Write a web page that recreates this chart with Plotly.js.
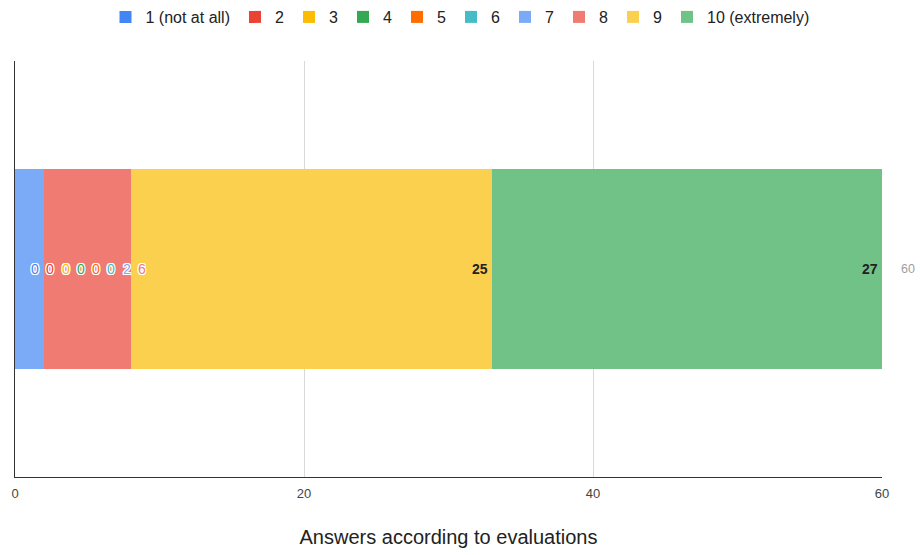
<!DOCTYPE html>
<html>
<head>
<meta charset="utf-8">
<script src="https://cdn.plot.ly/plotly-3.0.1.min.js"></script>
<style>html,body{margin:0;padding:0;background:#fff;}#chart{width:920px;height:555px;}</style>
</head>
<body>
<div id="chart"></div>
<script>
const seriesNames = ["1 (not at all)", "2", "3", "4", "5", "6", "7", "8", "9", "10 (extremely)"];
const seriesValues = [0, 0, 0, 0, 0, 0, 2, 6, 25, 27];
const seriesColors = ["#4285F4", "#EA4335", "#FBBC04", "#34A853", "#FF6D01", "#46BDC6", "#7BAAF7", "#F07B72", "#FCD04F", "#71C287"];
const category = [""];
const xTicks = [0, 20, 40, 60];
const xTitle = "Answers according to evaluations";

const FONT = "Arial, 'Liberation Sans', sans-serif";
const W = 920, H = 555;
const margin = {l: 15, r: 38, t: 61, b: 78};
const plotW = W - margin.l - margin.r;
const xMax = 60;
const pxPerUnit = plotW / xMax;

const traces = seriesNames.map((name, i) => ({
  type: "bar",
  orientation: "h",
  name: name,
  x: [seriesValues[i]],
  y: category,
  width: 0.482,
  marker: {color: seriesColors[i], line: {width: 0}},
  hoverinfo: "skip"
}));

// Value labels: right-aligned inside each segment end; collisions pushed right
const annotations = [];
let cum = 0;
let prevCenter = -Infinity;
const minGap = 15.3;
const firstMin = 20;
seriesValues.forEach((v, i) => {
  cum += v;
  const txt = String(v);
  const wTxt = txt.length * 7.3;
  let center = cum * pxPerUnit - 5 - wTxt / 2;
  if (center < firstMin) center = firstMin;
  if (center < prevCenter + minGap) center = prevCenter + minGap;
  prevCenter = center;
  const big = v >= 10;
  annotations.push({
    x: 0, y: 0, xref: "x", yref: "y",
    xanchor: "center", yanchor: "middle",
    xshift: center,
    text: big ? "<b>" + txt + "</b>" : txt,
    showarrow: false,
    font: big
      ? {family: FONT, size: 14, color: "#222222"}
      : {family: FONT, size: 14, color: seriesColors[i],
         shadow: "1px 0 0 #fff, -1px 0 0 #fff, 0 1px 0 #fff, 0 -1px 0 #fff, 1px 1px 0 #fff, -1px -1px 0 #fff, 1px -1px 0 #fff, -1px 1px 0 #fff"}
  });
});
// total label
const total = seriesValues.reduce((a, b) => a + b, 0);
annotations.push({
  x: total, y: 0, xref: "x", yref: "y",
  xanchor: "left", yanchor: "middle", xshift: 17,
  text: String(total), showarrow: false,
  font: {family: FONT, size: 12.5, color: "#9e9e9e"}
});

const layout = {
  width: W, height: H,
  margin: margin,
  paper_bgcolor: "#ffffff",
  plot_bgcolor: "#ffffff",
  barmode: "stack",
  bargap: 0,
  font: {family: FONT, size: 12, color: "#444"},
  showlegend: true,
  legend: {
    orientation: "h",
    x: 0.5, xanchor: "center", xref: "container",
    y: 1, yref: "container", yanchor: "top",
    font: {family: FONT, size: 16, color: "#222"},
    itemwidth: 30,
    traceorder: "normal",
    tracegroupgap: 0,
    itemclick: false
  },
  xaxis: {
    range: [0, xMax],
    tickvals: xTicks,
    ticktext: xTicks.map(String),
    showgrid: true,
    gridcolor: "#d9d9d9",
    gridwidth: 1,
    zeroline: false,
    showline: true,
    linecolor: "#333333",
    linewidth: 1,
    ticks: "outside",
    ticklen: 4,
    tickcolor: "rgba(0,0,0,0)",
    tickfont: {family: FONT, size: 13, color: "#444"},
    title: {text: xTitle, font: {family: FONT, size: 20, color: "#222"}, standoff: 30},
    fixedrange: true
  },
  yaxis: {
    range: [-0.5, 0.5],
    showticklabels: false,
    showgrid: false,
    zeroline: false,
    showline: true,
    linecolor: "#333333",
    linewidth: 1,
    ticks: "",
    fixedrange: true
  },
  annotations: annotations
};

Plotly.newPlot("chart", traces, layout, {displayModeBar: false, staticPlot: true});
</script>
</body>
</html>
